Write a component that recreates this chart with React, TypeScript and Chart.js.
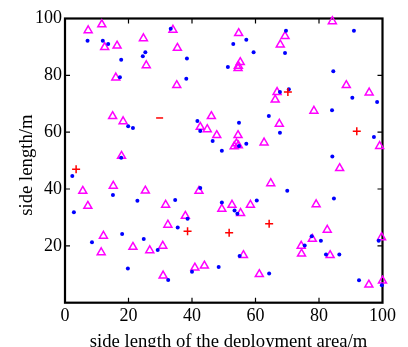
import React, { useEffect, useRef } from 'react';
import { Chart, registerables } from 'chart.js';

Chart.register(...registerables);

// Blue dots
const dotX = [7.1, 11.9, 13.6, 17.7, 17.3, 24.5, 25.3, 33.3, 38.4, 38.2, 19.9, 21.4, 17.7, 41.7, 42.6, 46.5, 49.4, 57.1, 53.0, 59.4, 51.3, 69.6, 69.3, 67.7, 70.5, 64.2, 67.7, 54.8, 54.8, 57.1, 91.0, 84.5, 90.5, 98.3, 84.1, 97.3, 84.2, 2.3, 15.1, 22.8, 2.8, 18.0, 8.5, 24.8, 19.8, 42.6, 34.7, 49.4, 38.6, 35.5, 29.2, 40.0, 48.4, 32.5, 70.0, 60.4, 53.4, 54.3, 55.0, 64.3, 75.5, 84.7, 77.7, 80.6, 98.8, 82.2, 86.4, 92.6, 99.8];
const dotY = [92.2, 92.2, 91.0, 85.5, 79.3, 86.7, 88.1, 96.4, 85.9, 78.8, 62.1, 61.5, 51.0, 63.9, 60.4, 56.9, 53.5, 92.5, 91.0, 88.1, 82.9, 95.7, 87.9, 74.1, 75.1, 65.7, 59.8, 63.3, 55.1, 55.9, 95.7, 81.4, 72.1, 70.6, 67.7, 58.3, 51.4, 44.6, 37.9, 35.9, 31.8, 24.2, 21.3, 22.4, 12.0, 40.4, 36.1, 35.3, 29.5, 26.5, 18.5, 10.9, 12.6, 8.0, 39.4, 36.0, 32.4, 31.3, 16.4, 10.3, 20.1, 36.7, 23.4, 21.8, 21.8, 17.0, 17.0, 7.9, 6.1];

// Magenta triangles
const triX = [7.3, 11.6, 12.5, 16.4, 16.0, 24.7, 25.6, 15.0, 18.3, 17.8, 34.0, 35.4, 35.2, 46.1, 42.6, 44.8, 47.8, 54.7, 55.2, 54.6, 54.5, 69.3, 67.8, 66.8, 66.2, 67.5, 54.5, 54.0, 54.6, 53.3, 62.7, 84.2, 88.6, 95.8, 78.4, 99.1, 5.6, 15.2, 7.2, 25.3, 12.1, 11.4, 21.4, 42.2, 31.7, 49.4, 37.9, 32.4, 26.7, 30.8, 40.9, 43.9, 30.9, 64.8, 52.6, 58.4, 55.3, 56.2, 61.2, 74.4, 74.5, 86.5, 79.1, 82.6, 77.9, 99.7, 83.5, 95.7, 100.0];
const triY = [95.8, 97.9, 89.9, 90.4, 79.2, 93.0, 83.5, 65.6, 63.8, 51.6, 96.0, 89.6, 76.5, 65.6, 61.8, 61.0, 58.9, 94.8, 84.6, 83.3, 82.5, 93.8, 90.8, 74.1, 71.4, 62.9, 58.9, 56.0, 55.3, 55.0, 56.3, 99.0, 76.5, 73.9, 67.5, 55.1, 39.3, 41.1, 34.0, 39.4, 23.5, 17.7, 19.6, 39.3, 34.4, 33.0, 30.5, 27.4, 18.4, 20.0, 12.3, 13.0, 9.5, 42.0, 34.4, 34.4, 31.5, 16.7, 10.0, 20.0, 17.2, 47.3, 34.6, 25.6, 22.4, 23.0, 16.7, 6.3, 7.7];

// Red plus markers
const plusX = [3.5, 38.6, 51.7, 64.3, 70.2, 91.9];
const plusY = [47.0, 25.1, 24.6, 27.8, 74.1, 60.3];

// Red minus marker
const minusX = [29.8];
const minusY = [65.0];

const xTickValues = [0, 20, 40, 60, 80, 100];
const xTickLabels = ['0', '20', '40', '60', '80', '100'];
const yTickValues = [0, 20, 40, 60, 80, 100];
const yTickLabels = ['', '20', '40', '60', '80', '100'];

const xTitle = 'side length of the deployment area/m';
const yTitle = 'side length/m';

const FONT_FAMILY = '"Liberation Serif", "Times New Roman", serif';

const toPoints = (xs: number[], ys: number[]) => xs.map((x, i) => ({ x, y: ys[i] }));

const framePlugin = {
  id: 'frame',
  beforeDatasetsDraw(chart: any) {
    const { ctx, chartArea } = chart;
    const { left, right, top, bottom } = chartArea;
    const xs = chart.scales.x;
    const ys = chart.scales.y;
    ctx.save();
    ctx.strokeStyle = '#000';
    ctx.lineWidth = 1.2;
    const t = 5;
    [20, 40, 60, 80].forEach((v) => {
      const px = xs.getPixelForValue(v);
      ctx.beginPath();
      ctx.moveTo(px, bottom);
      ctx.lineTo(px, bottom - t);
      ctx.moveTo(px, top);
      ctx.lineTo(px, top + t);
      ctx.stroke();
      const py = ys.getPixelForValue(v);
      ctx.beginPath();
      ctx.moveTo(left, py);
      ctx.lineTo(left + t, py);
      ctx.moveTo(right, py);
      ctx.lineTo(right - t, py);
      ctx.stroke();
    });
    ctx.lineWidth = 2.2;
    ctx.strokeRect(left, top, right - left, bottom - top);
    ctx.restore();
  },
};

// Axis titles, positioned as in the reference
const titlePlugin = {
  id: 'axisTitles',
  afterDraw(chart: any) {
    const { ctx, chartArea } = chart;
    ctx.save();
    ctx.fillStyle = '#000';
    ctx.font = `18.7px ${FONT_FAMILY}`;
    ctx.textAlign = 'center';
    ctx.textBaseline = 'alphabetic';
    const cx = (chartArea.left + chartArea.right) / 2 + 4.8;
    ctx.fillText(xTitle, cx, 346.5);
    const cy = (chartArea.top + chartArea.bottom) / 2 + 4.5;
    ctx.translate(31.5, cy);
    ctx.rotate(-Math.PI / 2);
    ctx.fillText(yTitle, 0, 0);
    ctx.restore();
  },
};

export default function App() {
  const ref = useRef<HTMLCanvasElement | null>(null);
  useEffect(() => {
    if (!ref.current) return;
    const font = { family: FONT_FAMILY, size: 18 };
    const chart = new Chart(ref.current, {
      type: 'scatter',
      data: {
        datasets: [
          {
            data: toPoints(plusX, plusY),
            pointStyle: 'cross',
            pointRadius: 4,
            borderColor: '#ff0000',
            backgroundColor: '#ff0000',
            borderWidth: 1.5,
            clip: false,
          },
          {
            data: toPoints(minusX, minusY),
            pointStyle: 'line',
            pointRadius: 3.5,
            borderColor: '#ff0000',
            backgroundColor: '#ff0000',
            borderWidth: 1.5,
            clip: false,
          },
          {
            data: toPoints(dotX, dotY),
            pointStyle: 'circle',
            pointRadius: 2,
            borderWidth: 0,
            backgroundColor: '#0000ff',
            borderColor: '#0000ff',
            clip: false,
          },
          {
            data: toPoints(triX, triY),
            pointStyle: 'triangle',
            pointRadius: 4.6,
            borderColor: '#ff00ff',
            backgroundColor: 'rgba(0,0,0,0)',
            borderWidth: 1.5,
            clip: false,
          },
        ],
      },
      options: {
        animation: false,
        responsive: true,
        maintainAspectRatio: false,
        layout: { padding: { top: 18.5, right: 25.5, left: 0, bottom: 0 } },
        plugins: { legend: { display: false }, tooltip: { enabled: false } },
        scales: {
          x: {
            type: 'linear',
            min: 0,
            max: 100,
            afterBuildTicks: (s: any) => {
              s.ticks = xTickValues.map((v) => ({ value: v }));
            },
            afterFit: (s: any) => {
              s.height = 44.3;
            },
            grid: { display: false, drawTicks: false },
            border: { display: false },
            ticks: {
              color: '#000',
              font,
              padding: 3,
              maxRotation: 0,
              callback: (v: any) => xTickLabels[xTickValues.indexOf(Number(v))] ?? '',
            },
            title: { display: false, text: xTitle },
          },
          y: {
            type: 'linear',
            min: 0,
            max: 100,
            afterBuildTicks: (s: any) => {
              s.ticks = yTickValues.map((v) => ({ value: v }));
            },
            afterFit: (s: any) => {
              s.width = 65;
            },
            grid: { display: false, drawTicks: false },
            border: { display: false },
            ticks: {
              color: '#000',
              font,
              padding: 3,
              callback: (v: any) => yTickLabels[yTickValues.indexOf(Number(v))] ?? '',
            },
            title: { display: false, text: yTitle },
          },
        },
      },
      plugins: [framePlugin, titlePlugin],
    });
    return () => chart.destroy();
  }, []);
  return (
    <div style={{ position: 'absolute', left: 0, top: 0, width: 408, height: 347, background: '#fff' }}>
      <canvas ref={ref} />
    </div>
  );
}
